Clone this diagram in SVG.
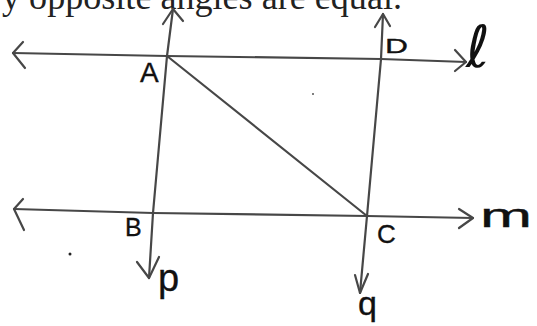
<svg xmlns="http://www.w3.org/2000/svg" width="537" height="326" viewBox="0 0 537 326">
<style>
.ln{fill:none;stroke:#474747;stroke-width:2.2;stroke-linecap:round;stroke-linejoin:round}
.lb{font-family:"Liberation Sans",Arial,sans-serif;fill:#111;stroke:#111;stroke-width:0.35}
.hd{font-family:"Liberation Serif","Times New Roman",serif;fill:#222}
</style>
<rect width="537" height="326" fill="#fff"/>
<text class="hd" x="2" y="9" font-size="35" textLength="400" lengthAdjust="spacingAndGlyphs">y opposite angles are equal.</text>
<g id="connectors">
  <path class="ln" d="M13,53 L167,56 L381,59 L466,62"/>
  <path class="ln" d="M23,42 L13,53 L25,68"/>
  <path class="ln" d="M455,50 L466,62 L455,71"/>
  <path class="ln" d="M14,209 L153,213 L367,216 L473,218"/>
  <path class="ln" d="M23,199 L14,209 L24,230"/>
  <path class="ln" d="M459,209 L473,218 L459,228"/>
  <path class="ln" d="M173,9 L167,56 L153,213 L149,278"/>
  <path class="ln" d="M163,24 L173,9 L183,21"/>
  <path class="ln" d="M137,262 L149,278 L159,257"/>
  <path class="ln" d="M383,14 L381,59 L367,216 L360,293"/>
  <path class="ln" d="M375,27 L383,14 L390,26"/>
  <path class="ln" d="M355,275 L360,293 L368,274"/>
  <path class="ln" d="M167,56 L367,216"/>
</g>
<g id="A"><text class="lb" x="140" y="82" font-size="28">A</text></g>
<g id="D"><text class="lb" x="385" y="53" font-size="21" textLength="23" lengthAdjust="spacingAndGlyphs">D</text></g>
<g id="B"><text class="lb" x="125" y="236" font-size="25">B</text></g>
<g id="C"><text class="lb" x="377" y="243" font-size="26">C</text></g>
<g id="label-l"><text x="466" y="67" font-family="DejaVu Sans,sans-serif" font-size="58" fill="#111">ℓ</text></g>
<g id="label-m"><text class="lb" x="480" y="227" font-size="34" textLength="52" lengthAdjust="spacingAndGlyphs">m</text></g>
<g id="label-p"><text class="lb" x="158" y="291" font-size="38">p</text></g>
<g id="label-q"><text class="lb" x="358" y="315" font-size="34">q</text></g>
<circle cx="70" cy="254" r="1.5" fill="#222"/>
<circle cx="313" cy="94" r="1" fill="#555"/>
</svg>
